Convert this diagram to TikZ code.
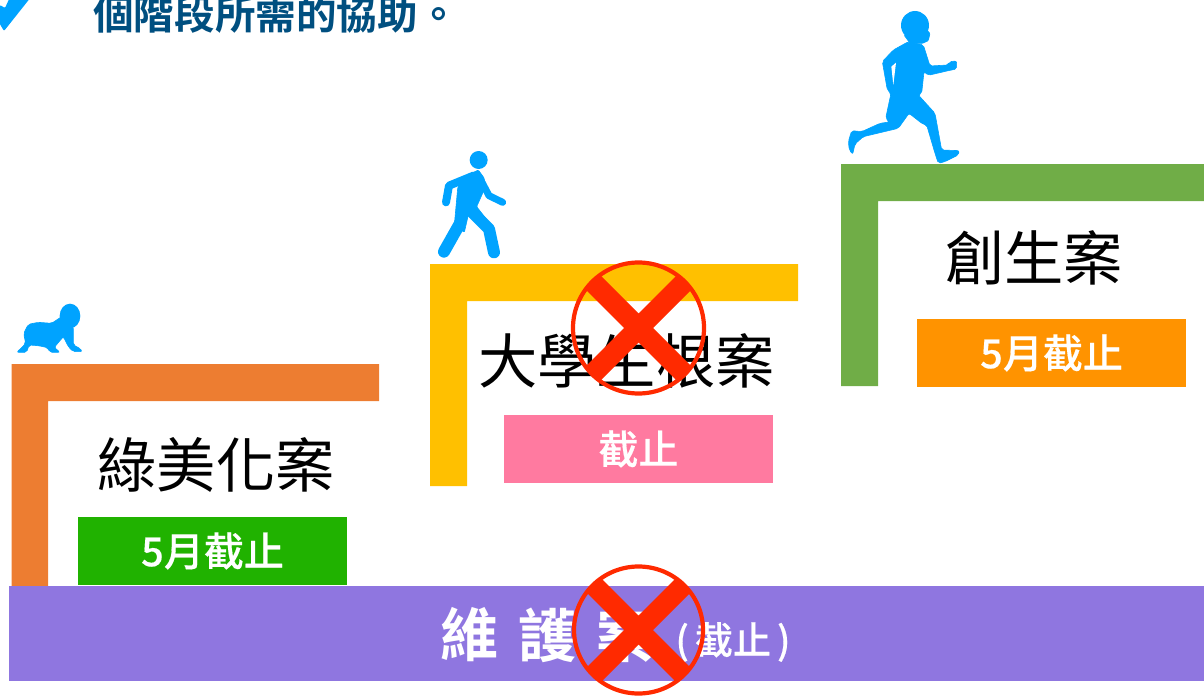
\documentclass[tikz,border=0pt]{standalone}
\usepackage{fontspec}
\setmainfont{Noto Sans CJK TC}[BoldFont={* Bold}]
\newfontfamily\cjkmed{Noto Sans CJK TC Medium}[FakeBold=0.35]
\definecolor{lorange}{HTML}{ED7D31}
\definecolor{lyellow}{HTML}{FFC000}
\definecolor{lgreen}{HTML}{70AD47}
\definecolor{bgreen}{HTML}{20B200}
\definecolor{bpink}{HTML}{FF7AA0}
\definecolor{borange}{HTML}{FF9300}
\definecolor{bpurple}{HTML}{8F76E0}
\definecolor{iconblue}{HTML}{00A3FF}
\definecolor{titleblue}{HTML}{004F80}
\definecolor{xred}{HTML}{FF2A00}
\tikzset{
  bar/.style={draw=none,inner sep=0pt,outer sep=0pt},
  headline/.style={inner sep=0pt,font=\fontsize{59.3pt}{60pt}\selectfont,text=black},
  tag/.style={bar,text=white,font=\fontsize{40pt}{41pt}\cjkmed,minimum width=269pt,minimum height=68pt},
  basetext/.style={inner sep=0pt,text=white,font=\fontsize{58pt}{60pt}\selectfont\bfseries},
  crossmark/.style={xred,line width=20.5pt},
  ringmark/.style={draw=xred,line width=4.2pt,fill=none},
  figure/.style={fill=iconblue,draw=iconblue,line width=.6pt,line join=round,rounded corners=2pt},
  limb/.style={draw=iconblue,line cap=round,line join=round},
}
\begin{document}
\begin{tikzpicture}[x=1pt,y=-1pt]
\useasboundingbox (0,0) rectangle (1204,696);
\clip (0,0) rectangle (1204,696);
% check mark and title
\fill[iconblue,rounded corners=1pt] (-6,14) -- (4,31) -- (31,-3) -- (10,-3) -- (5,8) -- (0,5) -- cycle;
\node[inner sep=0pt,anchor=base west,text=titleblue,font=\fontsize{40.6pt}{41pt}\selectfont\bfseries] (title) at (93,29) {個階段所需的協助。};
% brackets
\fill[lorange] (11.5,364) rectangle (379,401) (11.5,364) rectangle (48,586);
\fill[lyellow] (430,264) rectangle (798,301) (430,264) rectangle (467,486);
\fill[lgreen] (841,164) rectangle (1204,201) (841,164) rectangle (878,386);
% headings
\node[headline] (h1) at (216,465) {綠美化案};
\node[headline] (h2) at (626.5,361) {大學生根案};
\node[headline] (h3) at (1034,258) {創生案};
% tags
\node[tag,fill=bgreen] (t1) at (212.5,551) {5月截止};
\node[tag,fill=bpink] (t2) at (638.5,449) {截止};
\node[tag,fill=borange] (t3) at (1051.5,353) {5月截止};
% base
\node[bar,fill=bpurple,minimum width=1195pt,minimum height=95pt,anchor=north west] (base) at (9,586) {};
\node[basetext] (w1) at (469,635) {維};
\node[basetext] (w2) at (547,635) {護};
\node[basetext] (w3) at (625,635) {案};
\node[inner sep=0pt,text=white,font=\fontsize{38pt}{39pt}\cjkmed] (w4) at (733,642) {(\kern6pt截止\kern6pt)};
% crosses
\begin{scope}
\clip (638.5,328) circle [radius=66pt];
\draw[crossmark] (578.5,268) -- (698.5,388) (698.5,268) -- (578.5,388);
\end{scope}
\draw[ringmark] (638.5,328) circle [radius=65.5pt];
\begin{scope}
\clip (638.5,630) ellipse [x radius=65pt,y radius=64pt];
\draw[crossmark] (578.5,570) -- (698.5,690) (698.5,570) -- (578.5,690);
\end{scope}
\draw[ringmark] (638.5,630) ellipse [x radius=64.5pt,y radius=63.5pt];
% runner
\begin{scope}[shift={(830,0)},x=.3333pt,y=-.3333pt]
\fill[iconblue] (255,76) ellipse [x radius=42,y radius=43];
\path[figure,rounded corners=1pt] (222,105) -- (285,85) -- (300,100) -- (295,122) -- (278,130) -- (240,130) -- cycle;
\path[figure] (235,125) -- (280,135) -- (300,198) -- (355,195) -- (358,185) -- (380,183) -- (380,207) -- (355,212) -- (295,226) -- (282,215) -- (275,280) -- (265,285) -- (315,340) -- (335,450) -- (388,452) -- (385,465) -- (345,485) -- (325,490) -- (315,460) -- (290,375) -- (278,372) -- (237,340) -- (205,385) -- (100,410) -- (75,432) -- (68,463) -- (58,450) -- (55,425) -- (65,392) -- (95,395) -- (150,370) -- (178,366) -- (167,355) -- (183,280) -- (172,270) -- (157,185) -- (190,150) -- cycle;
\fill[white] (184,200) -- (198,188) -- (190,255) -- cycle;
\end{scope}
% walker
\begin{scope}[shift={(425,145)},x=.3333pt,y=-.3333pt]
\fill[iconblue] (161,45) circle [radius=27];
\path[figure,rounded corners=1pt] (108,100) -- (160,75) -- (178,100) -- (175,140) -- (155,185) -- (190,230) -- (130,210) -- (118,262) -- (88,240) -- (98,130) -- cycle;
\draw[limb,line width=8pt] (145,92) -- (72,122) -- (63,172);
\draw[limb,line width=7pt] (162,95) -- (192,152) -- (233,172);
\draw[limb,line width=12pt] (105,235) -- (57,320);
\draw[limb,line width=12pt] (135,195) -- (192,252) -- (207,322);
\end{scope}
% crawling baby
\begin{scope}[shift={(5,295)},x=.3333pt,y=-.3333pt]
\fill[iconblue] (195,63) ellipse [x radius=31,y radius=37];
\path[figure] (170,65) -- (140,85) -- (100,82) -- (70,88) -- (56,115) -- (62,145) -- (50,158) -- (35,172) -- (65,172) -- (72,150) -- (100,152) -- (128,158) -- (135,172) -- (165,172) -- (148,157) -- (175,125) -- (190,155) -- (205,170) -- (232,170) -- (225,160) -- (205,150) -- (205,95) -- cycle;
\end{scope}
\end{tikzpicture}
\end{document}
